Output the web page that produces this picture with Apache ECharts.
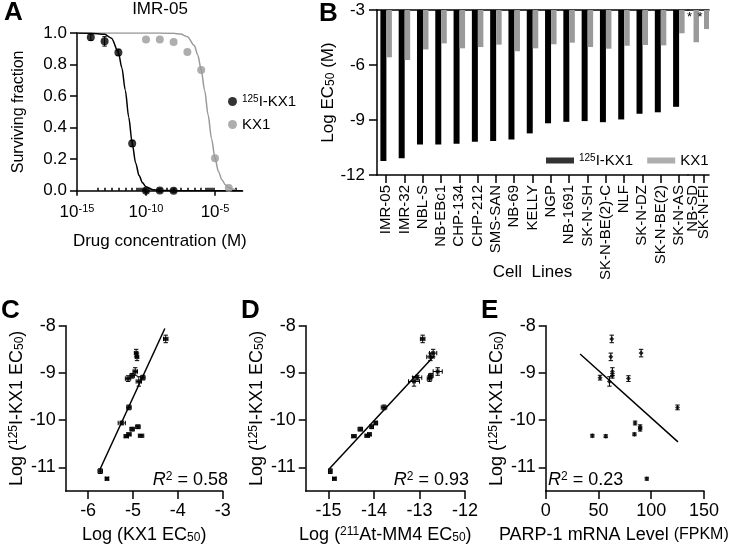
<!DOCTYPE html>
<html><head><meta charset="utf-8">
<script src="https://cdn.jsdelivr.net/npm/echarts@6/dist/echarts.min.js"></script>
<style>html,body{margin:0;padding:0;background:#fff}#c{width:740px;height:554px}</style>
</head><body><div id="c"></div>
<script>
const FONT = '"Liberation Sans", Arial, Helvetica, sans-serif';

// ---------- Panel A : IMR-05 survival ----------
const logConc125 = [-14, -13, -12, -11, -10, -9, -8];
const sf125 = [0.973, 0.947, 0.877, 0.30, 0.0, 0.002, 0.0];
const sf125Err = [0.02, 0.03, 0.02, 0.02, 0.01, 0.01, 0.01];
const logConcKX1 = [-10, -9, -8, -7, -6, -5, -4];
const sfKX1 = [0.958, 0.958, 0.943, 0.88, 0.765, 0.205, 0.017];
// fitted curves
const fit125X = [-15, -14, -13, -12.5, -12, -11.75, -11.5, -11.25, -11, -10.75, -10.5, -10.25, -10, -9.5, -9, -8, -3];
const fit125Y = [1.0, 0.999, 0.992, 0.967, 0.877, 0.780, 0.637, 0.465, 0.301, 0.176, 0.096, 0.050, 0.025, 0.006, 0.002, 0, 0];
const fitKX1X = [-15, -9, -8, -7.5, -7, -6.5, -6.25, -6, -5.75, -5.5, -5.25, -5, -4.75, -4.5, -4.25, -4, -3.75, -3.5];
const fitKX1Y = [1.0, 1.0, 0.998, 0.993, 0.976, 0.921, 0.861, 0.767, 0.636, 0.481, 0.330, 0.207, 0.122, 0.069, 0.038, 0.020, 0.011, 0.006];
const aMajorTicks = [-15, -10, -5];
const aMinorTicks = [-13.5, -13, -12.5, -12, -11.5, -11, -10.7, -10.5, -10.35, -10.2, -10.1,
                     -8.5, -8, -7.5, -7, -6.5, -6, -5.7, -5.5, -5.35, -5.2, -5.1, -3.5];

// ---------- Panel B : cell lines ----------
const cellLines = ['IMR-05', 'IMR-32', 'NBL-S', 'NB-EBc1', 'CHP-134', 'CHP-212', 'SMS-SAN', 'NB-69', 'KELLY', 'NGP',
  'NB-1691', 'SK-N-SH', 'SK-N-BE(2)-C', 'NLF', 'SK-N-DZ', 'SK-N-BE(2)', 'SK-N-AS', 'NB-SD', 'SK-N-FI'];
const logEC50_125IKX1 = [-11.24, -11.08, -10.34, -10.33, -10.30, -10.19, -10.14, -10.06, -9.73, -9.18,
  -9.10, -9.06, -9.12, -8.97, -8.66, -8.58, -8.28, null, null];
const err125IKX1 = [0.03, 0.05, 0.03, 0.03, 0.03, 0.04, 0.04, 0.04, 0.05, 0.10, 0.05, 0.05, 0.06, 0.08, 0.08, 0.08, 0.08, null, null];
const logEC50_KX1 = [-5.58, -5.73, -5.15, -4.82, -5.09, -5.02, -4.89, -5.25, -5.09, -4.87,
  -4.78, -5.02, -5.11, -4.95, -4.91, -4.93, -4.27, -4.76, -4.04];
const errKX1 = [0.04, 0.05, 0.05, 0.06, 0.05, 0.05, 0.05, 0.08, 0.05, 0.06, 0.05, 0.05, 0.06, 0.05, 0.04, 0.04, 0.05, 0.05, 0.05];

// ---------- Panel D : 211At-MM4 ----------
const logEC50_AtMM4 = [-14.87, -14.96, -14.44, -14.15, -14.10, -14.30, -14.05, -13.96, -13.78, -13.12,
  -13.05, -12.75, -12.78, -12.60, -12.76, -12.70, -12.93, null, null];
const errAtMM4 = [0.04, 0.04, 0.05, 0.05, 0.04, 0.05, 0.04, 0.04, 0.06, 0.12, 0.10, 0.05, 0.05, 0.10, 0.08, 0.08, 0.05, null, null];

// ---------- Panel E : PARP-1 ----------
const parp1FPKM = [95.8, null, 56.9, 44.2, 84.1, 89.5, 89.5, 84.7, 124.9, 60.4,
  51.5, 63.2, 78.4, 63.2, 61.7, 90.4, 62.6, null, null];

// regression lines (end points)
const regCX = [-5.74, -4.29], regCY = [-11.05, -8.06];
const regDX = [-14.98, -12.68], regDY = [-11.03, -8.64];
const regEX = [32.6, 125.3], regEY = [-8.60, -10.46];
const r2Values = ['0.58', '0.93', '0.23'];
const cdeYTicks = [-11, -10, -9, -8];
const cXTicks = [-6, -5, -4, -3];
const dXTicks = [-15, -14, -13, -12];

// ---------- helpers ----------
function pairs(xs, ys) {
  const o = [];
  for (let i = 0; i < xs.length; i++) if (xs[i] != null && ys[i] != null) o.push([xs[i], ys[i]]);
  return o;
}
function errData(xs, ys, exs, eys) {
  const o = [];
  for (let i = 0; i < xs.length; i++) if (xs[i] != null && ys[i] != null)
    o.push([xs[i], ys[i], exs ? (exs[i] || 0) : 0, eys ? (eys[i] || 0) : 0]);
  return o;
}
function errRender(params, api) {
  const x = api.value(0), y = api.value(1), ex = api.value(2), ey = api.value(3);
  const ch = [], cap = 2.2, st = { stroke: '#000', lineWidth: 1 };
  if (ey > 0) {
    const a = api.coord([x, y + ey]), b = api.coord([x, y - ey]);
    ch.push({ type: 'line', shape: { x1: a[0], y1: a[1], x2: b[0], y2: b[1] }, style: st });
    ch.push({ type: 'line', shape: { x1: a[0] - cap, y1: a[1], x2: a[0] + cap, y2: a[1] }, style: st });
    ch.push({ type: 'line', shape: { x1: b[0] - cap, y1: b[1], x2: b[0] + cap, y2: b[1] }, style: st });
  }
  if (ex > 0) {
    const a = api.coord([x - ex, y]), b = api.coord([x + ex, y]);
    ch.push({ type: 'line', shape: { x1: a[0], y1: a[1], x2: b[0], y2: b[1] }, style: st });
    ch.push({ type: 'line', shape: { x1: a[0], y1: a[1] - cap, x2: a[0], y2: a[1] + cap }, style: st });
    ch.push({ type: 'line', shape: { x1: b[0], y1: b[1] - cap, x2: b[0], y2: b[1] + cap }, style: st });
  }
  return { type: 'group', children: ch };
}
const LINE = { show: true, onZero: false, lineStyle: { color: '#000', width: 1.5 } };
const TICK = (len, vals) => { const t = { show: true, length: len, lineStyle: { color: '#000', width: 1.5 } }; if (vals) t.customValues = vals; return t; };
const LBL = (size, extra) => Object.assign({ color: '#000', fontSize: size, fontFamily: FONT }, extra || {});
const NAME = (size) => ({ color: '#000', fontSize: size, fontFamily: FONT, fontWeight: 'normal',
  rich: { s: { fontSize: Math.round(size * 0.68), verticalAlign: 'top', fontFamily: FONT, color: '#000', fontWeight: 'normal' },
          b: { fontSize: Math.round(size * 0.68), verticalAlign: 'bottom', fontFamily: FONT, color: '#000', fontWeight: 'normal' },
          i: { fontSize: size, fontStyle: 'italic', fontFamily: FONT, color: '#000', fontWeight: 'normal' },
          m: { fontSize: Math.round(size * 0.88), fontFamily: FONT, color: '#000', fontWeight: 'normal' },
          t: { fontSize: size, fontFamily: FONT, color: '#000', fontWeight: 'normal' } } });
const NOSPLIT = { show: false };
const grids = [
  { left: 77, top: 33, width: 165.6, height: 157.7 },   // A
  { left: 377, top: 10, width: 311, height: 165 },      // B main
  { left: 688, top: 10, width: 21, height: 165 },       // B squeezed
  { left: 65.7, top: 325.7, width: 157, height: 165.3 },  // C
  { left: 305.7, top: 325.7, width: 159.3, height: 165.3 }, // D
  { left: 545.7, top: 325.7, width: 158.3, height: 165.3 }  // E
].map(g => Object.assign(g, { containLabel: false, outerBoundsMode: 'none' }));

const mainCats = cellLines.slice(0, 17), starCats = cellLines.slice(17);
const LETTER = { fontSize: 26, fontWeight: 'bold', color: '#000', fontFamily: FONT };

const option = {
  animation: false,
  backgroundColor: '#fff',
  textStyle: { fontFamily: FONT, color: '#000' },
  grid: grids,
  title: [
    { text: 'A', left: 4, top: 0, padding: 0, textStyle: LETTER },
    { text: 'IMR-05', left: 160, top: 1, textAlign: 'center', padding: 0, textStyle: { fontSize: 17, fontWeight: 'normal', color: '#000', fontFamily: FONT } },
    { text: 'B', left: 319, top: 1, padding: 0, textStyle: LETTER },
    { text: 'C', left: 1, top: 298, padding: 0, textStyle: LETTER },
    { text: 'D', left: 241, top: 298, padding: 0, textStyle: LETTER },
    { text: 'E', left: 481, top: 298, padding: 0, textStyle: LETTER },
    { text: '{i|R}{s|2}{t| = ' + r2Values[0] + '}', left: 228, top: 471, textAlign: 'right', padding: 0, textStyle: NAME(18) },
    { text: '{i|R}{s|2}{t| = ' + r2Values[1] + '}', left: 469, top: 471, textAlign: 'right', padding: 0, textStyle: NAME(18) },
    { text: '{i|R}{s|2}{t| = ' + r2Values[2] + '}', left: 548, top: 471, textAlign: 'left', padding: 0, textStyle: NAME(18) }
  ],
  legend: [
    { data: ['125I-KX1', 'KX1'], orient: 'vertical', left: 228, top: 94, icon: 'circle', itemWidth: 9, itemHeight: 9, itemGap: 8,
      selectedMode: false, padding: 0,
      formatter: n => n === '125I-KX1' ? '{s|125}{t|I-KX1}' : '{t|KX1}',
      textStyle: { fontSize: 15, color: '#000', fontFamily: FONT, rich: { s: { fontSize: 10, verticalAlign: 'top', color: '#000', fontFamily: FONT }, t: { fontSize: 15, color: '#000', fontFamily: FONT } } } },
    { data: ['125I-KX1', 'KX1'], orient: 'horizontal', left: 546, top: 153, icon: 'rect', itemWidth: 28, itemHeight: 6, itemGap: 14,
      selectedMode: false, padding: 0,
      formatter: n => n === '125I-KX1' ? '{s|125}{t|I-KX1}' : '{t|KX1}',
      textStyle: { fontSize: 15, color: '#000', fontFamily: FONT, rich: { s: { fontSize: 10, verticalAlign: 'top', color: '#000', fontFamily: FONT }, t: { fontSize: 15, color: '#000', fontFamily: FONT } } } }
  ],
  xAxis: [
    { gridIndex: 0, type: 'value', min: -15, max: -3, axisLine: LINE, axisTick: TICK(5, aMajorTicks), splitLine: NOSPLIT,
      axisLabel: LBL(17, { customValues: aMajorTicks, margin: 13, formatter: v => '{t|10}{s|' + v + '}',
        rich: { t: { fontSize: 17, fontFamily: FONT, color: '#000' }, s: { fontSize: 11, verticalAlign: 'top', fontFamily: FONT, color: '#000' } } }),
      name: 'Drug concentration (M)', nameLocation: 'middle', nameGap: 42, nameMoveOverlap: false, nameTextStyle: NAME(17) },
    { gridIndex: 0, type: 'value', min: -15, max: -3, axisLine: { show: false }, axisTick: TICK(3, aMinorTicks), axisLabel: { show: false }, splitLine: NOSPLIT },
    { gridIndex: 1, type: 'category', data: mainCats, position: 'bottom', axisLine: LINE, axisTick: Object.assign(TICK(8), { alignWithLabel: true }),
      axisLabel: LBL(15, { rotate: 90, interval: 0, margin: 10 }),
      name: 'Cell  Lines', nameLocation: 'middle', nameGap: 89, nameMoveOverlap: false, nameTextStyle: NAME(17) },
    { gridIndex: 1, type: 'category', data: mainCats, position: 'top', axisLine: LINE, axisTick: { show: false }, axisLabel: { show: false } },
    { gridIndex: 2, type: 'category', data: starCats, position: 'bottom', axisLine: LINE, axisTick: Object.assign(TICK(8), { alignWithLabel: true }),
      axisLabel: LBL(15, { rotate: 90, interval: 0, margin: 10 }) },
    { gridIndex: 2, type: 'category', data: starCats, position: 'top', axisLine: LINE, axisTick: { show: false }, axisLabel: { show: false } },
    { gridIndex: 3, type: 'value', min: -6.5, max: -3, axisLine: LINE, axisTick: TICK(8, cXTicks), splitLine: NOSPLIT,
      axisLabel: LBL(18, { customValues: cXTicks, margin: 11 }),
      name: 'Log (KX1 EC{b|50})', nameLocation: 'middle', nameGap: 35, nameMoveOverlap: false, nameTextStyle: NAME(18) },
    { gridIndex: 4, type: 'value', min: -15.5, max: -12, axisLine: LINE, axisTick: TICK(8, dXTicks), splitLine: NOSPLIT,
      axisLabel: LBL(18, { customValues: dXTicks, margin: 11 }),
      name: 'Log ({s|211}At-MM4 EC{b|50})', nameLocation: 'middle', nameGap: 35, nameMoveOverlap: false, nameTextStyle: NAME(18) },
    { gridIndex: 5, type: 'value', min: 0, max: 150, interval: 50, axisLine: LINE, axisTick: TICK(8), splitLine: NOSPLIT,
      axisLabel: LBL(18, { margin: 11 }),
      name: '{t|PARP-1 mRNA Level }{m|(FPKM)}', nameLocation: 'middle', nameGap: 35, nameMoveOverlap: false,
      nameTextStyle: Object.assign(NAME(18), { padding: [0, 22, 0, 0] }) }
  ],
  yAxis: [
    { gridIndex: 0, type: 'value', min: 0, max: 1, interval: 0.2, axisLine: LINE, axisTick: TICK(7), splitLine: NOSPLIT,
      axisLabel: LBL(17, { margin: 10, formatter: v => v.toFixed(1) }),
      name: 'Surviving fraction', nameLocation: 'middle', nameGap: 50, nameMoveOverlap: false, nameTextStyle: NAME(16) },
    { gridIndex: 1, type: 'value', min: -12, max: -3, interval: 3, startValue: -3, axisLine: LINE, axisTick: TICK(8), splitLine: NOSPLIT,
      axisLabel: LBL(17, { margin: 12 }),
      name: 'Log EC{b|50} (M)', nameLocation: 'middle', nameGap: 40, nameMoveOverlap: false, nameTextStyle: NAME(17) },
    { gridIndex: 2, type: 'value', min: -12, max: -3, interval: 3, startValue: -3, show: false, splitLine: NOSPLIT },
    { gridIndex: 3, type: 'value', min: -11.5, max: -8, axisLine: LINE, axisTick: TICK(7, cdeYTicks), splitLine: NOSPLIT,
      axisLabel: LBL(18, { customValues: cdeYTicks, margin: 10 }),
      name: 'Log ({s|125}I-KX1 EC{b|50})', nameLocation: 'middle', nameGap: 40, nameMoveOverlap: false, nameTextStyle: NAME(18) },
    { gridIndex: 4, type: 'value', min: -11.5, max: -8, axisLine: LINE, axisTick: TICK(7, cdeYTicks), splitLine: NOSPLIT,
      axisLabel: LBL(18, { customValues: cdeYTicks, margin: 10 }),
      name: 'Log ({s|125}I-KX1 EC{b|50})', nameLocation: 'middle', nameGap: 40, nameMoveOverlap: false, nameTextStyle: NAME(18) },
    { gridIndex: 5, type: 'value', min: -11.5, max: -8, axisLine: LINE, axisTick: TICK(7, cdeYTicks), splitLine: NOSPLIT,
      axisLabel: LBL(18, { customValues: cdeYTicks, margin: 10 }),
      name: 'Log ({s|125}I-KX1 EC{b|50})', nameLocation: 'middle', nameGap: 40, nameMoveOverlap: false, nameTextStyle: NAME(18) }
  ],
  series: [
    // ----- A -----
    { name: '125I-KX1', type: 'scatter', xAxisIndex: 0, yAxisIndex: 0, data: pairs(logConc125, sf125), symbolSize: 8,
      itemStyle: { color: '#000' }, clip: false, z: 5 },
    { name: 'KX1', type: 'scatter', xAxisIndex: 0, yAxisIndex: 0, data: pairs(logConcKX1, sfKX1), symbolSize: 8,
      itemStyle: { color: '#9a9a9a' }, clip: false, z: 4 },
    { type: 'custom', xAxisIndex: 0, yAxisIndex: 0, renderItem: errRender, data: errData(logConc125, sf125, null, sf125Err), z: 5 },
    { type: 'line', xAxisIndex: 0, yAxisIndex: 0, data: pairs(fit125X, fit125Y), showSymbol: false, symbol: 'none',
      smooth: 0.3, smoothMonotone: 'x', lineStyle: { color: '#000', width: 1.5 }, z: 3 },
    { type: 'line', xAxisIndex: 0, yAxisIndex: 0, data: pairs(fitKX1X, fitKX1Y), showSymbol: false, symbol: 'none',
      smooth: 0.3, smoothMonotone: 'x', lineStyle: { color: '#9a9a9a', width: 1.5 }, z: 2 },
    // ----- B -----
    { name: '125I-KX1', type: 'bar', xAxisIndex: 2, yAxisIndex: 1, data: logEC50_125IKX1.slice(0, 17), barWidth: 6, barGap: '0%',
      itemStyle: { color: '#000' } },
    { name: 'KX1', type: 'bar', xAxisIndex: 2, yAxisIndex: 1, data: logEC50_KX1.slice(0, 17), barWidth: 5.5, barGap: '0%',
      itemStyle: { color: '#9a9a9a' } },
    { name: '125I-KX1', type: 'bar', xAxisIndex: 4, yAxisIndex: 2, data: logEC50_125IKX1.slice(17), barWidth: 6, barGap: '0%',
      itemStyle: { color: '#000' } },
    { name: 'KX1', type: 'bar', xAxisIndex: 4, yAxisIndex: 2, data: logEC50_KX1.slice(17), barWidth: 5.5, barGap: '0%',
      itemStyle: { color: '#9a9a9a' },
      label: { show: true, position: [-4, 1], align: 'center', verticalAlign: 'top', formatter: '*', fontSize: 13, color: '#000', fontFamily: FONT } },
    // ----- C -----
    { type: 'custom', xAxisIndex: 6, yAxisIndex: 3, renderItem: errRender, data: errData(logEC50_KX1, logEC50_125IKX1, errKX1, err125IKX1), z: 4 },
    { type: 'scatter', xAxisIndex: 6, yAxisIndex: 3, data: pairs(logEC50_KX1, logEC50_125IKX1), symbol: 'rect', symbolSize: 4,
      itemStyle: { color: '#000' }, z: 5 },
    { type: 'line', xAxisIndex: 6, yAxisIndex: 3, data: pairs(regCX, regCY), symbol: 'none', lineStyle: { color: '#000', width: 1.5 }, z: 3 },
    // ----- D -----
    { type: 'custom', xAxisIndex: 7, yAxisIndex: 4, renderItem: errRender, data: errData(logEC50_AtMM4, logEC50_125IKX1, errAtMM4, err125IKX1), z: 4 },
    { type: 'scatter', xAxisIndex: 7, yAxisIndex: 4, data: pairs(logEC50_AtMM4, logEC50_125IKX1), symbol: 'rect', symbolSize: 4,
      itemStyle: { color: '#000' }, z: 5 },
    { type: 'line', xAxisIndex: 7, yAxisIndex: 4, data: pairs(regDX, regDY), symbol: 'none', lineStyle: { color: '#000', width: 1.5 }, z: 3 },
    // ----- E -----
    { type: 'custom', xAxisIndex: 8, yAxisIndex: 5, renderItem: errRender, data: errData(parp1FPKM, logEC50_125IKX1, null, err125IKX1), z: 4 },
    { type: 'scatter', xAxisIndex: 8, yAxisIndex: 5, data: pairs(parp1FPKM, logEC50_125IKX1), symbol: 'diamond', symbolSize: 5,
      itemStyle: { color: '#000' }, z: 5 },
    { type: 'line', xAxisIndex: 8, yAxisIndex: 5, data: pairs(regEX, regEY), symbol: 'none', lineStyle: { color: '#000', width: 1.5 }, z: 3 }
  ]
};
const chart = echarts.init(document.getElementById('c'), null, { renderer: 'canvas' });
chart.setOption(option);
</script>
</body></html>
